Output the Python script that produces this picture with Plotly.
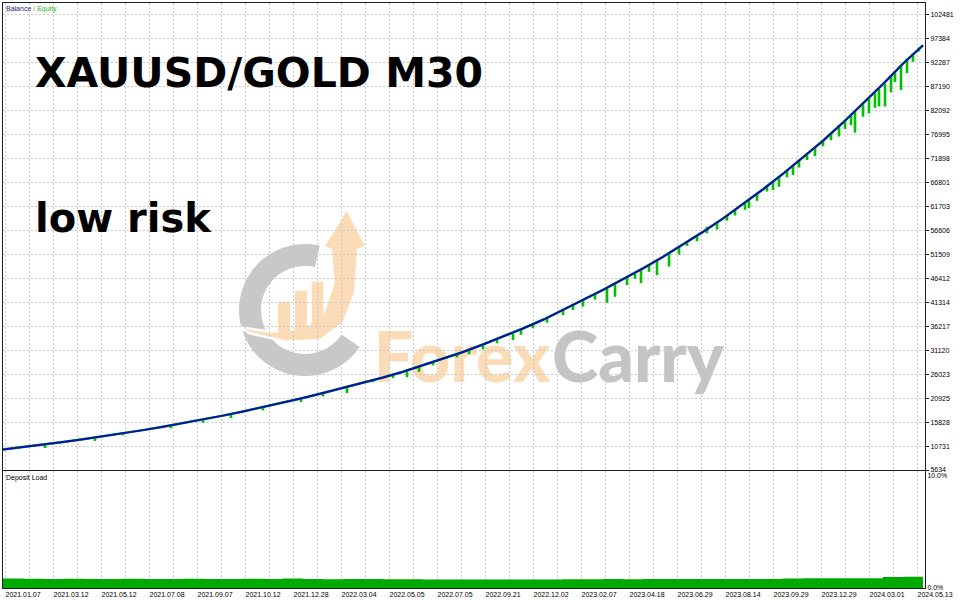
import numpy as np
import plotly.graph_objects as go

# ---------------- data ----------------
dates = ["2021.01.07", "2021.03.12", "2021.05.12", "2021.07.08", "2021.09.07",
         "2021.10.12", "2021.12.28", "2022.03.04", "2022.05.05", "2022.07.05",
         "2022.09.21", "2022.12.02", "2023.02.07", "2023.04.18", "2023.06.29",
         "2023.08.14", "2023.09.29", "2023.12.29", "2024.03.01", "2024.05.13"]

y_ticks = [5634, 10731, 15828, 20925, 26023, 31120, 36217, 41314, 46412, 51509,
           56606, 61703, 66801, 71898, 76995, 82092, 87190, 92287, 97384, 102481]

# balance every 10 deals
balance = [10000, 10500, 11050, 11600, 12180, 12800, 13450, 14120, 14850, 15600,
           16380, 17200, 18080, 19000, 19950, 20950, 22000, 23100, 24100, 25300,
           26550, 27900, 29300, 30750, 32350, 34000, 35750, 37600, 39800, 41850,
           43950, 46200, 48550, 51000, 53600, 56300, 59150, 62200, 65350, 68650,
           72100, 75700, 79550, 83550, 87750, 92100, 96000]

# equity drawdown spikes: deal number, balance level, equity low
dip_deals = [21, 46, 60, 84, 100, 114, 130, 149, 160, 172,
             185, 195, 202, 208, 215, 227, 233, 240, 247, 255,
             259, 265, 272, 280, 285, 290, 296, 302, 306, 312,
             316, 319, 323, 327, 333, 338, 342, 347, 352, 357,
             362, 366, 371, 373, 377, 382, 385, 388, 392, 395,
             398, 402, 406, 410, 414, 418, 421, 424, 426, 430,
             433, 436, 438, 441, 444, 446, 449, 452, 455, 458]
dip_top = [11100, 12600, 13450, 15100, 16380, 17500, 19000, 20900, 22000, 23500,
           24900, 25900, 27000, 27800, 28600, 30100, 31200, 32400, 33500, 34700,
           35400, 36700, 38000, 39850, 40800, 41850, 43100, 44500, 45400, 46700,
           47600, 48450, 49300, 50300, 51800, 53100, 54100, 55500, 57400, 58300,
           59750, 61000, 62500, 63000, 64400, 66150, 67000, 68000, 69300, 70300,
           71400, 73000, 74200, 75700, 77200, 79000, 80000, 81100, 81900, 83550,
           84800, 85800, 86700, 87900, 89500, 90300, 91600, 93200, 94300, 95500]
dip_low = [10300, 11800, 13000, 14500, 15700, 16700, 18300, 20100, 21300, 22000,
           24300, 25200, 25400, 26500, 27900, 29600, 30300, 31300, 32600, 33300,
           34400, 35800, 37000, 38600, 39700, 40400, 41900, 41200, 42500, 45000,
           46300, 45400, 47800, 47100, 48900, 51500, 53300, 54300, 56000, 56800,
           58700, 59800, 61000, 61400, 62900, 64900, 65200, 65900, 67900, 68400,
           70000, 71600, 72400, 74500, 75800, 76600, 78200, 79000, 77400, 80800,
           81500, 82700, 83000, 83000, 86000, 88200, 86500, 90100, 92500, 94700]

# deposit load (%) every 10 deals
load_pct = [0.85, 0.82, 0.80, 0.82, 0.80, 0.80, 0.82, 0.80, 0.80, 0.82,
            0.80, 0.80, 0.82, 0.80, 0.84, 0.80, 0.78, 0.80, 0.80, 0.78,
            0.78, 0.77, 0.76, 0.75, 0.76, 0.75, 0.77, 0.76, 0.78, 0.79,
            0.80, 0.79, 0.80, 0.81, 0.80, 0.81, 0.80, 0.81, 0.80, 0.84,
            0.86, 0.86, 0.86, 0.88, 0.98, 1.00, 1.02]

deal_step = 10
deals = [i * deal_step for i in range(len(balance))]
load_deals = [i * deal_step for i in range(len(load_pct))]

# ---------------- geometry helpers ----------------
W, H = 960, 600
ML, MR, MT, MB = 3, 35, 3, 12
PX0, PX1 = ML, W - MR          # plot area x pixels
PY0, PY1 = MT, H - MB          # plot area y pixels
XMAX = 461


def paper(px, py):
    return (px - PX0) / (PX1 - PX0), (PY1 - py) / (PY1 - PY0)


def P(px, py):
    x, y = paper(px, py)
    return f"{x:.5f},{y:.5f}"


def poly(pts):
    return "M" + "L".join(P(*p) for p in pts) + "Z"


main_bottom = (PY1 - 470) / (PY1 - PY0)
load_top = (PY1 - 471) / (PY1 - PY0)

GRID = "#c8c8c8"
FRAME = "#1e1e1e"
SMALL = dict(family="Liberation Sans, Arial, sans-serif", size=7, color="#000000")

fig = go.Figure()

fig.add_trace(go.Bar(
    x=dip_deals, y=[t - l for t, l in zip(dip_top, dip_low)], base=dip_low,
    width=1.3, marker=dict(color="#00c000", line=dict(width=0)),
    xaxis="x", yaxis="y", hoverinfo="skip", name="Equity dips"))

fig.add_trace(go.Scatter(
    x=deals, y=balance, mode="lines", line=dict(color="#00c000", width=2.5),
    xaxis="x", yaxis="y", name="Equity"))

fig.add_trace(go.Scatter(
    x=deals, y=balance, mode="lines", line=dict(color="#0c0cb8", width=2),
    xaxis="x", yaxis="y", name="Balance"))

fig.add_trace(go.Scatter(
    x=load_deals, y=load_pct, mode="lines", line=dict(width=0, shape="hv"),
    fill="tozeroy", fillcolor="#00aa00", xaxis="x2", yaxis="y2",
    name="Deposit Load"))

# ---------------- watermark (decoration) ----------------
cx, cy, R1, R2 = 305, 310, 66, 44
ang = np.radians(np.linspace(77, 326, 70))
ring = [(cx + R1 * np.cos(a), cy - R1 * np.sin(a)) for a in ang] + \
       [(cx + R2 * np.cos(a), cy - R2 * np.sin(a)) for a in ang[::-1]]
swoosh = [(236.7, 326.7), (270, 331.7), (303.3, 328.3), (323.3, 313.3),
          (333.3, 283.3), (331, 250), (323.3, 246.7), (346.7, 208.3),
          (366.7, 246.7), (358.3, 250), (355, 293.3), (343.3, 323.3),
          (320, 340), (286.7, 341.7), (250, 333.3)]
GRAY_WM = "#c8c8c8"
ORANGE_WM = "#fcdcb6"
shapes = [
    dict(type="path", path=poly(ring), xref="paper", yref="paper",
         fillcolor=GRAY_WM, line=dict(width=0), layer="below"),
    dict(type="path", path=poly(swoosh), xref="paper", yref="paper",
         fillcolor=ORANGE_WM, line=dict(color="#ffffff", width=2.5), layer="below"),
]
for (bx0, by0, bx1, by1) in [(278, 301.7, 290, 331.7), (295, 290.7, 307, 331.7),
                             (311.7, 281.7, 323.3, 326.7)]:
    x0, y0 = paper(bx0, by1)
    x1, y1 = paper(bx1, by0)
    shapes.append(dict(type="rect", xref="paper", yref="paper", x0=x0, x1=x1,
                       y0=y0, y1=y1, fillcolor=ORANGE_WM, line=dict(width=0),
                       layer="below"))
for word, col, (wx0, wx1) in [("Forex", ORANGE_WM, (374, 550)),
                              ("Carry", "#c4c4c4", (550, 726))]:
    x0, y0 = paper(wx0, 382)
    x1, y1 = paper(wx1, 326)
    shapes.append(dict(type="rect", xref="paper", yref="paper", x0=x0, x1=x1,
                       y0=y0, y1=y1, line=dict(width=0),
                       fillcolor="rgba(0,0,0,0)", layer="below",
                       label=dict(text=word, textposition="middle center",
                                  font=dict(family="Lato, Noto Sans, sans-serif",
                                            size=70, color=col, weight=900))))

# ---------------- annotations ----------------
ann = []
tx, ty = paper(33, 73)
ann.append(dict(text="<b>XAUUSD/GOLD M30</b>", x=tx, y=ty, xref="paper", yref="paper",
                xanchor="left", yanchor="middle", showarrow=False,
                font=dict(family="DejaVu Sans, sans-serif", size=41, color="#000000")))
tx, ty = paper(33, 218)
ann.append(dict(text="<b>low risk</b>", x=tx, y=ty, xref="paper", yref="paper",
                xanchor="left", yanchor="middle", showarrow=False,
                font=dict(family="DejaVu Sans, sans-serif", size=40, color="#000000")))
tx, ty = paper(4, 9)
ann.append(dict(text="<span style='color:#1a1a8c'>Balance</span>"
                     "<span style='color:#808080'> / </span>"
                     "<span style='color:#22bb22'>Equity</span>",
                x=tx, y=ty, xref="paper", yref="paper", xanchor="left",
                yanchor="middle", showarrow=False, font=SMALL))
tx, ty = paper(4, 478)
ann.append(dict(text="Deposit Load", x=tx, y=ty, xref="paper", yref="paper",
                xanchor="left", yanchor="middle", showarrow=False, font=SMALL))

axis_common = dict(showline=True, linecolor=FRAME, linewidth=1, mirror=True,
                   zeroline=False, tickfont=SMALL, automargin=False)

fig.update_layout(
    width=W, height=H,
    margin=dict(l=ML, r=MR, t=MT, b=MB, pad=0),
    paper_bgcolor="#ffffff", plot_bgcolor="#ffffff",
    showlegend=False, barmode="overlay",
    shapes=shapes, annotations=ann,
    font=SMALL,
    xaxis=dict(domain=[0, 1], anchor="y", range=[0, XMAX], tickmode="linear",
               tick0=1, dtick=12, showticklabels=False, ticks="",
               showgrid=True, gridcolor=GRID, griddash="2px,2px", gridwidth=1,
               **axis_common),
    yaxis=dict(domain=[main_bottom, 1], anchor="x", side="right",
               range=[y_ticks[0], 105000], tickmode="array", tickvals=y_ticks,
               ticktext=[str(v) for v in y_ticks], ticks="outside", ticklen=3,
               tickcolor=FRAME, showgrid=True, gridcolor=GRID,
               griddash="2px,2px", gridwidth=1, **axis_common),
    xaxis2=dict(domain=[0, 1], anchor="y2", range=[0, XMAX], tickmode="array",
                tickvals=[1 + 24 * i for i in range(len(dates))], ticktext=dates,
                ticks="", ticklabelposition="outside right",
                showgrid=True, gridcolor=GRID, griddash="2px,2px",
                minor=dict(tick0=1, dtick=12, showgrid=True, gridcolor=GRID,
                           griddash="2px,2px", ticks=""),
                **axis_common),
    yaxis2=dict(domain=[0, load_top], anchor="x2", side="right",
                range=[0, 10.45], tickmode="array", tickvals=[0, 10],
                ticktext=["0.0%", "10.0%"], ticks="", showgrid=False,
                **axis_common),
)

fig.write_html("out.html",
               config={"displayModeBar": False},
               post_script="document.body.style.margin='0';"
                           "document.body.style.overflow='hidden';")
